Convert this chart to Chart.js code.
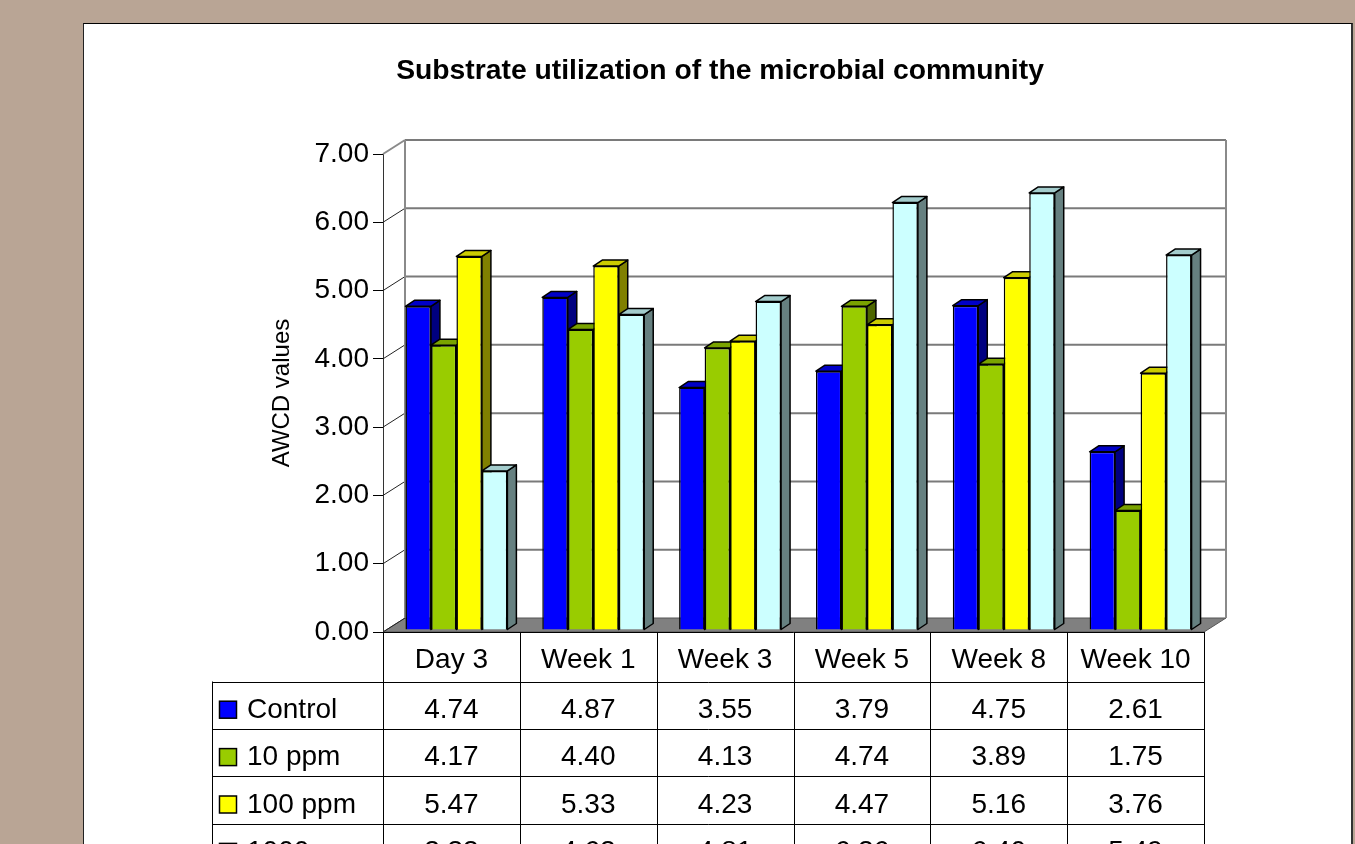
<!DOCTYPE html>
<html>
<head>
<meta charset="utf-8">
<script src="https://cdn.jsdelivr.net/npm/chart.js@4"></script>
<style>
  html, body { margin: 0; padding: 0; background: #b9a595; overflow: hidden; }
  #panel { position: absolute; left: 83px; top: 23px; width: 1267px; height: 900px; background: #fff;
           border-top: 1px solid #000; border-left: 1px solid #222; border-right: 2px solid #333; }
  #chart { position: absolute; left: 0; top: 0; }
</style>
</head>
<body>
<div id="panel"></div>
<canvas id="chart" width="1355" height="844"></canvas>
<script>
// data
const categories = ['Day 3', 'Week 1', 'Week 3', 'Week 5', 'Week 8', 'Week 10'];
const seriesNames = ['Control', '10 ppm', '100 ppm', '1000 ppm'];
const control = [4.74, 4.87, 3.55, 3.79, 4.75, 2.61];
const ppm10 = [4.17, 4.40, 4.13, 4.74, 3.89, 1.75];
const ppm100 = [5.47, 5.33, 4.23, 4.47, 5.16, 3.76];
const ppm1000 = [2.33, 4.62, 4.81, 6.26, 6.40, 5.49];
const yMin = 0, yMax = 7, yStep = 1;

const seriesValues = [control, ppm10, ppm100, ppm1000];

// styles
const frontColors = ['#0000ff', '#99cc00', '#ffff00', '#ccffff'];
const topColors = ['#0000c8', '#7aa300', '#cccc00', '#a3cccc'];
const sideColors = ['#000080', '#4d6600', '#808000', '#668080'];
const FONT = '"Liberation Sans", Arial, sans-serif';
const wallDepth = [22, -14];
const barDepth = [9, -6];
const barShift = [5, -2];

Chart.defaults.font.family = FONT;
Chart.defaults.color = '#000';

function poly(ctx, pts, fill) {
  ctx.beginPath();
  ctx.moveTo(pts[0][0], pts[0][1]);
  for (let i = 1; i < pts.length; i++) ctx.lineTo(pts[i][0], pts[i][1]);
  ctx.closePath();
  if (fill) { ctx.fillStyle = fill; ctx.fill(); }
  ctx.stroke();
}
function seg(ctx, x1, y1, x2, y2) {
  ctx.beginPath(); ctx.moveTo(x1, y1); ctx.lineTo(x2, y2); ctx.stroke();
}

const box3d = {
  id: 'box3d',
  beforeDatasetsDraw(chart) {
    const { ctx, chartArea: a, scales: { y } } = chart;
    const [dx, dy] = wallDepth;
    ctx.save();
    // floor
    ctx.strokeStyle = '#555'; ctx.lineWidth = 1;
    poly(ctx, [[a.left, a.bottom], [a.right, a.bottom], [a.right + dx, a.bottom + dy], [a.left + dx, a.bottom + dy]], '#808080');
    // back wall grid + left wall diagonals
    y.ticks.forEach(t => {
      const py = y.getPixelForValue(t.value);
      if (t.value > yMin) {
        ctx.strokeStyle = '#7a7a7a'; ctx.lineWidth = 2;
        seg(ctx, a.left + dx, py + dy, a.right + dx, py + dy);
      }
      ctx.strokeStyle = t.value === yMax ? '#8a8a8a' : '#222';
      ctx.lineWidth = t.value === yMax ? 2 : 1;
      seg(ctx, a.left, py, a.left + dx, py + dy);
    });
    ctx.strokeStyle = '#8a8a8a'; ctx.lineWidth = 2;
    seg(ctx, a.left + dx, a.top + dy, a.left + dx, a.bottom + dy);
    seg(ctx, a.right + dx, a.top + dy, a.right + dx, a.bottom + dy);
    ctx.restore();

    // bars: front face from Chart.js, then side and top
    const [bx, by] = barDepth;
    ctx.save();
    ctx.translate(barShift[0], barShift[1]);
    chart.data.datasets.forEach((ds, d) => {
      chart.getDatasetMeta(d).data.forEach(bar => {
        bar.draw(ctx, a);
        const l = bar.x - bar.width / 2, r = bar.x + bar.width / 2;
        const top = bar.y, base = bar.base;
        ctx.strokeStyle = '#000'; ctx.lineWidth = 1.5; ctx.lineJoin = 'round';
        poly(ctx, [[r, top], [r + bx, top + by], [r + bx, base + by], [r, base]], sideColors[d]);
        poly(ctx, [[l, top], [l + bx, top + by], [r + bx, top + by], [r, top]], topColors[d]);
      });
    });
    ctx.restore();
    return false;
  },
  afterDraw(chart) {
    const { ctx, chartArea: a, scales: { x } } = chart;
    const colW = (x.right - x.left) / categories.length;
    const legendLeft = 212.5, headerBottom = 681.5, rowH = 47.4;
    ctx.save();
    ctx.strokeStyle = '#000'; ctx.lineWidth = 1;
    seg(ctx, a.left, a.bottom + 0.5, a.right, a.bottom + 0.5);
    for (let r = 0; r <= seriesNames.length; r++) {
      const ly = Math.round(headerBottom + r * rowH) + 0.5;
      seg(ctx, legendLeft, ly, a.right, ly);
    }
    for (let i = 0; i <= categories.length; i++) {
      const lx = Math.round(x.left + i * colW) + 0.5;
      seg(ctx, lx, a.bottom, lx, chart.height);
    }
    seg(ctx, legendLeft, headerBottom, legendLeft, chart.height);

    ctx.font = '28px ' + FONT;
    ctx.textBaseline = 'middle';
    seriesValues.forEach((vals, r) => {
      const cy = headerBottom + r * rowH + rowH / 2;
      ctx.fillStyle = frontColors[r];
      ctx.fillRect(219.5, cy - 4, 17, 17);
      ctx.lineWidth = 1.5; ctx.strokeStyle = '#000';
      ctx.strokeRect(219.5, cy - 4, 17, 17);
      ctx.fillStyle = '#000';
      ctx.textAlign = 'left';
      ctx.fillText(seriesNames[r], 247, cy + 5);
      ctx.textAlign = 'center';
      vals.forEach((v, i) => ctx.fillText(v.toFixed(2), x.getPixelForValue(i), cy + 5));
    });

    ctx.font = 'bold 28.3px ' + FONT;
    ctx.textAlign = 'center';
    ctx.fillText('Substrate utilization of the microbial community', 720, 71);
    ctx.restore();
  }
};

new Chart(document.getElementById('chart'), {
  type: 'bar',
  data: {
    labels: categories,
    datasets: seriesNames.map((name, d) => ({
      label: name,
      data: seriesValues[d],
      backgroundColor: frontColors[d],
      borderColor: '#000',
      borderWidth: 1.5,
      categoryPercentage: 0.745,
      barPercentage: 1
    }))
  },
  options: {
    responsive: false,
    animation: false,
    devicePixelRatio: 1,
    layout: { padding: { left: 267.6, right: 151, top: 154, bottom: 0 } },
    plugins: { legend: { display: false }, tooltip: { enabled: false } },
    scales: {
      x: {
        grid: { display: false },
        border: { display: false },
        ticks: { font: { size: 28 }, color: '#000', padding: 3, maxRotation: 0, autoSkip: false },
        afterFit: s => { s.height = 212; }
      },
      y: {
        min: yMin, max: yMax,
        ticks: { stepSize: yStep, font: { size: 28 }, color: '#000', padding: 4,
                 callback: v => v.toFixed(2) },
        grid: { drawOnChartArea: false, drawTicks: true, tickLength: 10, color: '#000' },
        border: { display: true, color: '#333', width: 1 },
        title: { display: true, text: 'AWCD values', font: { size: 24 }, color: '#000', padding: 0 },
        afterFit: s => { s.width = 115.4; }
      }
    }
  },
  plugins: [box3d]
});
</script>
</body>
</html>
